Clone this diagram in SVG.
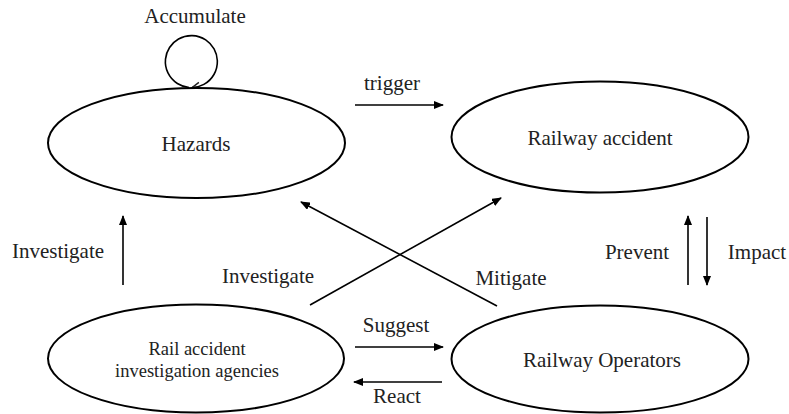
<svg xmlns="http://www.w3.org/2000/svg" width="789" height="414" viewBox="0 0 789 414">
<defs>
<marker id="ah" markerWidth="10" markerHeight="8" refX="9" refY="4" orient="auto" markerUnits="userSpaceOnUse">
<path d="M0,0 L10,4 L0,8 Z" fill="#000"/>
</marker>
<marker id="chev" markerWidth="10" markerHeight="12" refX="8" refY="6" orient="auto" markerUnits="userSpaceOnUse">
<path d="M1,1 L8,6 L1,11" fill="none" stroke="#222" stroke-width="1.5"/>
</marker>
</defs>
<style>
.node{fill:#fff;stroke:#000;stroke-width:2}
.t{font-family:"Liberation Serif","Times New Roman","DejaVu Serif",serif;font-size:21px;fill:#222;text-anchor:middle}
.s{font-size:18.5px}
.c{stroke:#000;stroke-width:1.6;fill:none}
</style>
<rect width="789" height="414" fill="#fff"/>
<g id="connectors">
<path class="c" d="M189,87.5 A26,26 0 1 1 192,87.6" stroke="#333" marker-end="url(#chev)"/>
<line class="c" x1="355" y1="105" x2="443" y2="105" marker-end="url(#ah)"/>
<line class="c" x1="123" y1="285" x2="123" y2="216" marker-end="url(#ah)"/>
<line class="c" x1="310" y1="305" x2="501" y2="198" marker-end="url(#ah)"/>
<line class="c" x1="497" y1="306" x2="301" y2="202" marker-end="url(#ah)"/>
<line class="c" x1="355" y1="347" x2="443" y2="347" marker-end="url(#ah)"/>
<line class="c" x1="442" y1="382" x2="354" y2="382" marker-end="url(#ah)"/>
<line class="c" x1="688" y1="285" x2="688" y2="216" marker-end="url(#ah)"/>
<line class="c" x1="707" y1="217" x2="707" y2="285" marker-end="url(#ah)"/>
<text class="t" x="195" y="23">Accumulate</text>
<text class="t" x="392" y="90">trigger</text>
<text class="t" x="58" y="258">Investigate</text>
<text class="t" x="268" y="283">Investigate</text>
<text class="t" x="511" y="285">Mitigate</text>
<text class="t" x="396" y="332">Suggest</text>
<text class="t" x="397" y="403">React</text>
<text class="t" x="637" y="259">Prevent</text>
<text class="t" x="757" y="259">Impact</text>
</g>
<g id="hazards">
<ellipse class="node" cx="196.5" cy="143" rx="148.5" ry="55"/>
<text class="t" x="196" y="151">Hazards</text>
</g>
<g id="railway-accident">
<ellipse class="node" cx="600" cy="137" rx="148.5" ry="55.5"/>
<text class="t" x="600" y="145">Railway accident</text>
</g>
<g id="agencies">
<ellipse class="node" cx="196" cy="358.5" rx="148" ry="54"/>
<text class="t s" x="197" y="355">Rail accident</text>
<text class="t s" x="197" y="377">investigation agencies</text>
</g>
<g id="operators">
<ellipse class="node" cx="600" cy="359" rx="148.5" ry="53.5"/>
<text class="t" x="602" y="367">Railway Operators</text>
</g>
</svg>
